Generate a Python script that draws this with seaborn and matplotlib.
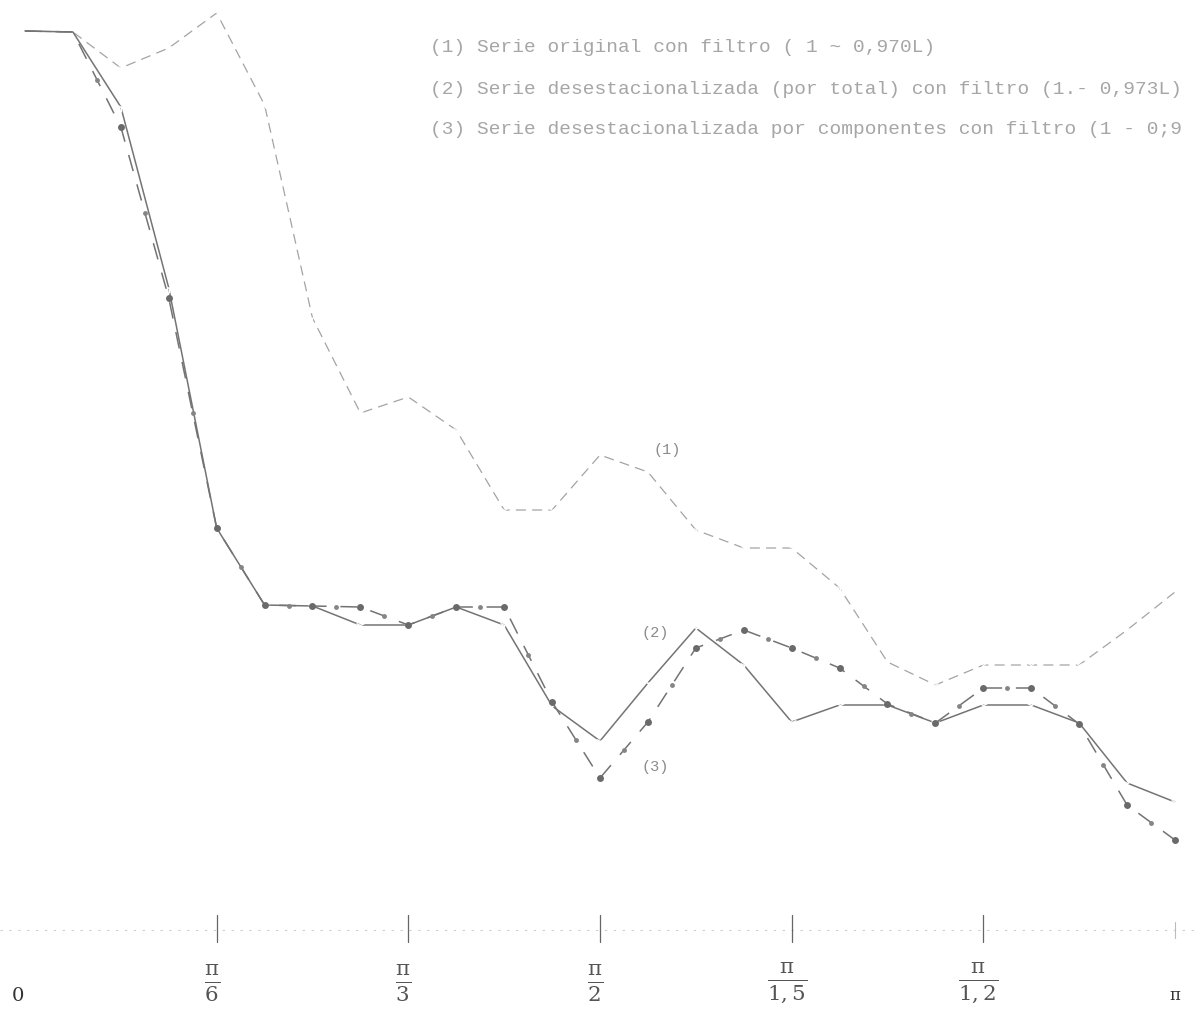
import numpy as np
import pandas as pd
import matplotlib
matplotlib.use("Agg")
import matplotlib.pyplot as plt
import seaborn as sns

# Frequencies k*pi/24, k = 0..24
paso = np.arange(25)
frecuencia = paso * np.pi / 24

# (1) Serie original con filtro (1 - 0,970L)
serie_original = [89.9, 89.8, 86.2, 88.2, 91.7, 82.5, 61.2, 51.7, 53.3, 50.0,
                  42.0, 42.0, 47.5, 45.8, 40.0, 38.2, 38.2, 34.2, 26.8, 24.5,
                  26.5, 26.5, 26.5, 30.0, 33.8]
# (2) Serie desestacionalizada (por total)
serie_total = [89.9, 89.8, 82.3, 64.2, 40.2, 32.5, 32.4, 30.5, 30.5, 32.3,
               30.5, 22.4, 18.9, 24.7, 30.2, 26.5, 20.8, 22.5, 22.5, 20.7,
               22.5, 22.5, 20.7, 14.7, 12.8]
# (3) Serie desestacionalizada por componentes
serie_componentes = [89.9, 89.8, 80.3, 63.2, 40.2, 32.5, 32.4, 32.3, 30.5, 32.3,
                     32.3, 22.8, 15.2, 20.8, 28.2, 30.0, 28.2, 26.2, 22.6, 20.7,
                     24.2, 24.2, 20.6, 12.5, 9.0]

tick_valores = [0, np.pi / 6, np.pi / 3, np.pi / 2, np.pi / 1.5, np.pi / 1.2, np.pi]
tick_denominadores = [None, "6", "3", "2", "1,5", "1,2", None]

leyenda = [
    "(1) Serie original con filtro ( 1 ~ 0,970L)",
    "(2) Serie desestacionalizada (por total) con filtro (1.- 0,973L)",
    "(3) Serie desestacionalizada por componentes con filtro (1 - 0;9",
]

sns.set_theme(style="white")
plt.rcParams["mathtext.fontset"] = "dejavuserif"

W, H = 1195, 1035
fig = plt.figure(figsize=(W / 100, H / 100), dpi=100)
ax = fig.add_axes([0, 0, 1, 1])
ax.set_facecolor("white")

df = pd.DataFrame({
    "frecuencia": frecuencia,
    "original": serie_original,
    "total": serie_total,
    "componentes": serie_componentes,
})

# (1) thin light dashed line
sns.lineplot(data=df, x="frecuencia", y="original", ax=ax, color="#a4a4a4",
             lw=0.9, linestyle=(0, (8, 5)), marker="1", markersize=5,
             markeredgewidth=0.8, markevery=list(range(1, 25)),
             estimator=None, sort=False)
# (2) solid line with small ticks at the points
sns.lineplot(data=df, x="frecuencia", y="total", ax=ax, color="#747474",
             lw=1.1, marker="1", markersize=7, markeredgewidth=1.0,
             markevery=list(range(2, 25)), estimator=None, sort=False)
# (3) dash-dot line with round marks at points and mid-segments
sns.lineplot(data=df, x="frecuencia", y="componentes", ax=ax, color="#737373",
             lw=1.1, linestyle=(0, (11, 9)), marker="o", markersize=5,
             markeredgewidth=0, markerfacecolor="#6a6a6a",
             markevery=list(range(2, 25)), estimator=None, sort=False)
medio_x = (frecuencia[:-1] + frecuencia[1:]) / 2
medio_y = (np.array(serie_componentes[:-1]) + np.array(serie_componentes[1:])) / 2
ax.plot(medio_x[1:], medio_y[1:], linestyle="none", marker="o", markersize=3.5,
        markeredgewidth=0, color="#858585")

# Scales: 0 -> 25 px, pi -> 1175 px; value v -> 930 - 10 v px
esc = 1150 / np.pi
ax.set_xlim(-25 / esc, np.pi + (W - 1175) / esc)
ax.set_ylim(-(H - 930) / 10, 93)
ax.set_xlabel("")
ax.set_ylabel("")
ax.set_xticks([])
ax.set_yticks([])
for s in ax.spines.values():
    s.set_visible(False)

# Faint frequency axis
ax.axhline(0, color="#cccccc", lw=0.8, linestyle=(0, (2, 6)))
for t in tick_valores[1:-1]:
    ax.plot([t, t], [-1.2, 1.5], color="#666666", lw=0.9)
ax.plot([np.pi, np.pi], [-0.8, 0.8], color="#bbbbbb", lw=0.8)

# Tick labels as fractions of pi
for t, d in zip(tick_valores, tick_denominadores):
    if d is None:
        lab = "0" if t == 0 else "π"
        ax.text(t - (7 / esc if t == 0 else 0), -6.6, lab, ha="center", va="center",
                fontsize=14 if t == 0 else 12, color="#333333", family="DejaVu Serif")
    else:
        ax.text(t - 5 / esc, -5.3, r"$\frac{\mathrm{\pi}}{%s}$" % d, ha="center",
                va="center", fontsize=22, color="#555555")

# Curve labels
for lab, xp, yv in [("(1)", 667, 48.0), ("(2)", 655, 29.7), ("(3)", 655, 16.3)]:
    ax.text((xp - 25) / esc, yv, lab, fontsize=11, color="#8a8a8a",
            family="Liberation Mono", ha="center", va="center")

# Legend text
for i, linea in enumerate(leyenda):
    fig.text(430 / W, 1 - (48 + 41 * i) / H, linea, fontsize=14.0,
             family="Liberation Mono", color="#a6a6a6", ha="left", va="center")

fig.savefig("out.png", dpi=100)
